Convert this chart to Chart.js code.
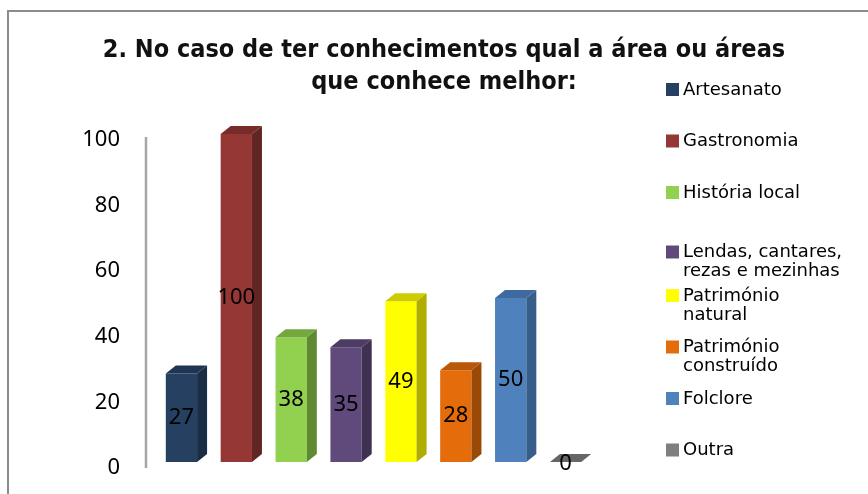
<!doctype html>
<html>
	<head>
		<meta charset="utf-8" />
		<title>Áreas de conhecimento</title>
		<script src="https://cdn.jsdelivr.net/npm/chart.js@4.4.1/dist/chart.umd.min.js"></script>
		<style>
			html,
			body {
				margin: 0;
				padding: 0;
				background: #fff;
			}

			canvas {
				display: block;
			}
		</style>
	</head>

	<body>
		<canvas id="chartJSContainer" width="868" height="494"></canvas>

		<script>
			// data
			const categories = [
				"Artesanato",
				"Gastronomia",
				"História local",
				["Lendas, cantares,", "rezas e mezinhas"],
				["Património", "natural"],
				["Património", "construído"],
				"Folclore",
				"Outra",
			];
			const values = [27, 100, 38, 35, 49, 28, 50, 0];
			const yTicks = [0, 20, 40, 60, 80, 100];
			const titleLines = [
				"2. No caso de ter conhecimentos qual a área ou áreas",
				"que conhece melhor:",
			];

			// colours: front, right side, top of each 3d bar
			const frontColors = ["#254061", "#953735", "#92d050", "#604a7b", "#ffff00", "#e46c0a", "#4f81bd", "#7f7f7f"];
			const sideColors = ["#1a2d45", "#632523", "#5f8a32", "#3f3151", "#b0ad00", "#9b4907", "#375d8a", "#5a5a5a"];
			const topColors = ["#1f3552", "#772c2a", "#74a83f", "#4c3b63", "#cccc00", "#b85808", "#3f6aa0", "#666666"];

			const DEPTH_X = 10,
				DEPTH_Y = 8;
			const valueFont = "22px 'Noto Sans', sans-serif";
			const legendFont = "18px 'DejaVu Sans', sans-serif";

			// outer frame of the office chart
			const framePlugin = {
				id: "frame",
				beforeDraw(chart) {
					const { ctx, width, height } = chart;
					ctx.save();
					ctx.fillStyle = "#fff";
					ctx.fillRect(0, 0, width, height);
					ctx.strokeStyle = "#8c8c8c";
					ctx.lineWidth = 2;
					ctx.beginPath();
					ctx.moveTo(8, height);
					ctx.lineTo(8, 11);
					ctx.lineTo(width, 11);
					ctx.stroke();
					ctx.restore();
				},
			};

			// fake 3d: side + top faces, value labels, axis wall line
			const bars3d = {
				id: "bars3d",
				afterDatasetsDraw(chart) {
					const { ctx, chartArea } = chart;
					const y = chart.scales.y;
					const meta = chart.getDatasetMeta(0);

					ctx.save();
					ctx.strokeStyle = "#a6a6a6";
					ctx.lineWidth = 2.5;
					ctx.beginPath();
					ctx.moveTo(chartArea.left - 8, y.getPixelForValue(100) + 3);
					ctx.lineTo(chartArea.left - 8, y.getPixelForValue(0) + 6);
					ctx.stroke();

					meta.data.forEach((bar, i) => {
						const p = bar.getProps(["x", "y", "base", "width"], true);
						const l = p.x - p.width / 2,
							r = p.x + p.width / 2;
						const top = Math.min(p.y, p.base),
							bottom = p.base;

						if (bottom - top > 0.5) {
							ctx.fillStyle = sideColors[i];
							ctx.beginPath();
							ctx.moveTo(r, top);
							ctx.lineTo(r + DEPTH_X, top - DEPTH_Y);
							ctx.lineTo(r + DEPTH_X, bottom - DEPTH_Y);
							ctx.lineTo(r, bottom);
							ctx.closePath();
							ctx.fill();
						}

						ctx.fillStyle = bottom - top > 0.5 ? topColors[i] : "#666666";
						ctx.beginPath();
						ctx.moveTo(l, top);
						ctx.lineTo(l + DEPTH_X, top - DEPTH_Y);
						ctx.lineTo(r + DEPTH_X, top - DEPTH_Y);
						ctx.lineTo(r, top);
						ctx.closePath();
						ctx.fill();

						ctx.fillStyle = "#000";
						ctx.font = valueFont;
						ctx.textAlign = "center";
						ctx.textBaseline = "middle";
						const ly = bottom - top > 0.5 ? (top + bottom) / 2 : bottom + 2;
						ctx.fillText(String(values[i]), p.x, ly);
					});
					ctx.restore();
				},
			};

			// legend as a layout box on the right (keeps the title centred on the whole card)
			const sideLegend = {
				id: "sideLegend",
				beforeInit(chart) {
					const box = {
						id: "sideLegendBox",
						options: {},
						position: "right",
						weight: 0,
						fullSize: false,
						left: 0,
						top: 0,
						right: 0,
						bottom: 0,
						width: 0,
						height: 0,
						isHorizontal() {
							return false;
						},
						update(maxWidth, maxHeight) {
							this.width = 275;
							this.height = maxHeight;
						},
						draw() {
							const ctx = chart.ctx;
							const labels = chart.data.labels;
							ctx.save();
							ctx.font = legendFont;
							ctx.textAlign = "left";
							ctx.textBaseline = "middle";
							labels.forEach((lab, i) => {
								const lines = Array.isArray(lab) ? lab : [lab];
								const cy = 90 + i * 51.5 + (lines.length > 1 && i === 3 ? 8 : 0);
								ctx.fillStyle = frontColors[i];
								ctx.fillRect(this.left + 73, cy - 7, 13, 13);
								ctx.fillStyle = "#000";
								lines.forEach((t, k) => {
									ctx.fillText(t, this.left + 90, cy + k * 19);
								});
							});
							ctx.restore();
						},
					};
					Chart.layouts.addBox(chart, box);
				},
			};

			const ctx = document.getElementById("chartJSContainer").getContext("2d");
			window.testedChart = new Chart(ctx, {
				type: "bar",
				data: {
					labels: categories,
					datasets: [
						{
							data: values,
							backgroundColor: frontColors,
							borderWidth: 0,
							categoryPercentage: 1,
							barPercentage: 0.57,
						},
					],
				},
				options: {
					responsive: false,
					animation: false,
					layout: { padding: { left: 20, right: 0, top: 0, bottom: 32 } },
					plugins: {
						legend: { display: false },
						tooltip: { enabled: false },
						title: {
							display: true,
							text: titleLines,
							color: "#111",
							font: {
								family: "'DejaVu Sans Condensed', 'DejaVu Sans', sans-serif",
								size: 25,
								weight: "bold",
								lineHeight: 1.3,
							},
							padding: { top: 34, bottom: 35 },
						},
					},
					scales: {
						x: {
							display: false,
							grid: { display: false },
						},
						y: {
							min: 0,
							max: 100,
							afterFit(scale) {
								scale.width = 134;
								scale.paddingTop = 0;
								scale.paddingBottom = 0;
							},
							afterBuildTicks(scale) {
								scale.ticks = yTicks.map((v) => ({ value: v }));
							},
							grid: { display: false, drawTicks: false },
							border: { display: false },
							ticks: {
								padding: 34,
								labelOffset: 6,
								color: "#000",
								font: { family: "'Noto Sans', sans-serif", size: 22 },
							},
						},
					},
				},
				plugins: [framePlugin, bars3d, sideLegend],
			});
		</script>
	</body>
</html>
